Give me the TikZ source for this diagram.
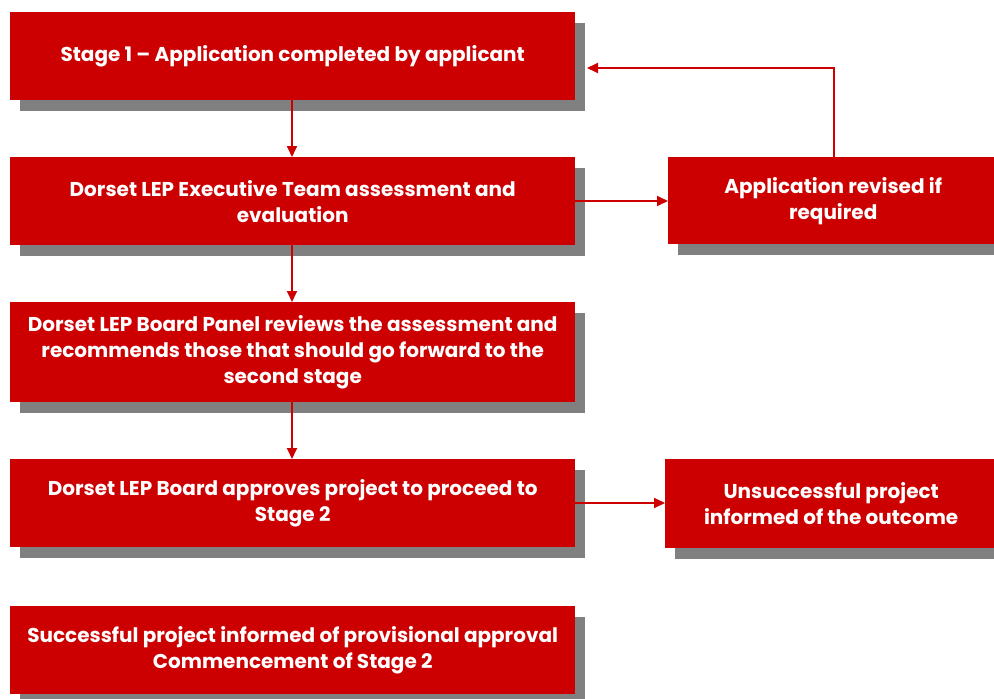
\documentclass[tikz,border=0pt]{standalone}
\usepackage{fontspec}
\setmainfont{Poppins}
\usetikzlibrary{arrows.meta,shadows}
\definecolor{boxred}{RGB}{204,0,0}
\definecolor{shadowgray}{RGB}{128,128,128}
\begin{document}
\begin{tikzpicture}[x=1pt,y=-1pt,
  box/.style={fill=boxred, draw=none, text=white, font=\bfseries\fontsize{20}{26}\selectfont,
    align=center, inner sep=0pt, anchor=north west,
    drop shadow={shadow xshift=10pt, shadow yshift=-11pt, fill=shadowgray, opacity=1}},
  conn/.style={draw=boxred, line width=1.8pt, -{Triangle[length=11pt,width=10pt]}}
]
\useasboundingbox (0,0) rectangle (994,699);
\node[box, minimum width=565pt, minimum height=88pt] (s1) at (10,12) {\raisebox{-2pt}{Stage 1 -- Application completed by applicant}};
\node[box, minimum width=565pt, minimum height=88pt] (s2) at (10,157) {Dorset LEP Executive Team assessment and\\evaluation};
\node[box, minimum width=565pt, minimum height=100pt] (s3) at (10,302) {Dorset LEP Board Panel reviews the assessment and\\recommends those that should go forward to the\\second stage};
\node[box, minimum width=565pt, minimum height=88pt] (s4) at (10,459) {Dorset LEP Board approves project to proceed to\\Stage 2};
\node[box, minimum width=565pt, minimum height=88pt] (s5) at (10,606) {Successful project informed of provisional approval\\Commencement of Stage 2};
\node[box, minimum width=330pt, minimum height=87pt] (ra) at (668,157) {Application revised if\\required};
\node[box, minimum width=332pt, minimum height=89pt] (rb) at (665,459) {Unsuccessful project\\informed of the outcome};
\coordinate (fb) at (834,68);
\draw[conn] (s1.south -| 292,0) -- (s2.north -| 292,0);
\draw[conn] (s2.south -| 292,0) -- (s3.north -| 292,0);
\draw[conn] (s3.south -| 292,0) -- (s4.north -| 292,0);
\draw[conn] (s2.east |- 0,201) -- (ra.west |- 0,201);
\draw[conn] (s4.east |- 0,503) -- (rb.west |- 0,503);
\draw[conn] (ra.north -| fb) -- (fb) -- (587,68);
\end{tikzpicture}
\end{document}
